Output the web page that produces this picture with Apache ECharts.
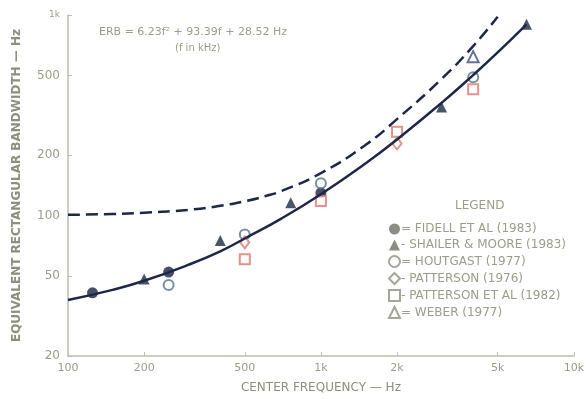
<!DOCTYPE html>
<html>
<head>
<meta charset="UTF-8">
<title>ERB</title>
<script src="https://cdn.jsdelivr.net/npm/echarts@6/dist/echarts.min.js"></script>
<style>html,body{margin:0;padding:0;background:#fff}</style>
</head>
<body>
<div id="main" style="width:587px;height:399px"></div>
<script>
// tick values
var xTicks = [100, 200, 500, 1000, 2000, 5000, 10000];
var yTicks = [20, 50, 100, 200, 500, 1000];

// curves (frequency Hz, bandwidth Hz)
var erbCurve = [[100, 38], [150, 42.7], [200, 47.4], [300, 57], [400, 66.5], [500, 77], [700, 97], [1000, 128], [1500, 182], [2000, 240], [3000, 365], [4000, 502], [5000, 651], [6500, 899]];
var cbCurve = [[100, 101], [150, 102], [200, 103.5], [300, 107], [400, 112], [500, 118], [600, 125], [700, 133], [1000, 163], [1500, 225], [2000, 303], [3000, 480], [4000, 700], [5000, 980]];

// measured points
var fidell = [[125, 41.3], [250, 52.4], [1000, 130]];
var shailer = [[200, 48.4], [400, 75.3], [760, 116], [3000, 348], [6500, 900]];
var houtgast = [[250, 45.2], [500, 80.6], [1000, 145], [4000, 489]];
var patterson76 = [[500, 73.6], [2000, 229]];
var patterson82 = [[500, 60.7], [1000, 118.5], [2000, 262], [4000, 427]];
var weber = [[4000, 620]];

var names = ['FIDELL ET AL (1983)', 'SHAILER & MOORE (1983)', 'HOUTGAST (1977)', 'PATTERSON (1976)', 'PATTERSON ET AL (1982)', 'WEBER (1977)'];
var prefix = ['= ', '- ', '= ', '- ', '- ', '= '];

var axisColor = '#b9c1ad';
var textColor = '#9c9c8a';
var ink = '#1f2748';

function fmt(v) {
    if (v >= 1000) return (v / 1000) + 'k';
    return v + '';
}

var legendData = names.map(function (n, i) {
    return {
        name: n,
        itemStyle: i < 2 ? {color: '#707064'} : {color: '#8e8e80', borderColor: '#8e8e80', borderWidth: 1.5}
    };
});

var chart = echarts.init(document.getElementById('main'));
chart.setOption({
    animation: false,
    textStyle: {fontFamily: 'DejaVu Sans'},
    title: [{
        text: 'ERB = 6.23f² + 93.39f + 28.52 Hz',
        left: 94, top: 22,
        textStyle: {fontSize: 11, fontWeight: 'normal', color: textColor}
    }, {
        text: '(f in kHz)',
        left: 170, top: 38,
        textStyle: {fontSize: 10, fontWeight: 'normal', color: textColor}
    }, {
        text: 'LEGEND',
        left: 450, top: 195,
        textStyle: {fontSize: 12, fontWeight: 'normal', color: textColor}
    }],
    legend: {
        orient: 'vertical',
        left: 383, top: 218,
        itemWidth: 11, itemHeight: 11, itemGap: 4,
        data: legendData,
        textStyle: {fontSize: 12, color: textColor, padding: [0, 0, 0, -4]},
        formatter: function (n) { return prefix[names.indexOf(n)] + n; }
    },
    grid: {left: 68, right: 11, top: 15, bottom: 38},
    xAxis: {
        type: 'log', min: 100, max: 10000,
        name: 'CENTER FREQUENCY — Hz', nameLocation: 'middle', nameGap: 26,
        nameTextStyle: {fontSize: 12, color: '#8e8e7c'},
        axisLine: {lineStyle: {color: axisColor, width: 1.5}},
        axisTick: {inside: true, length: 4, customValues: xTicks, lineStyle: {color: axisColor}},
        minorTick: {show: false},
        axisLabel: {customValues: xTicks, color: textColor, fontSize: 11, margin: 7, formatter: fmt},
        splitLine: {show: false}
    },
    yAxis: {
        type: 'log', min: 20, max: 1000,
        name: 'EQUIVALENT RECTANGULAR BANDWIDTH — Hz', nameLocation: 'middle', nameGap: 45,
        nameTextStyle: {fontSize: 12, fontWeight: 'bold', color: '#8e8e7c'},
        axisLine: {lineStyle: {color: axisColor, width: 1.5}},
        axisTick: {inside: true, length: 4, customValues: yTicks, lineStyle: {color: axisColor}},
        axisLabel: {
            customValues: yTicks, color: textColor, fontSize: 12, margin: 8,
            formatter: function (v) { return v >= 1000 ? '{s|1k}' : fmt(v); },
            rich: {s: {fontSize: 9, color: textColor}}
        },
        splitLine: {show: false}
    },
    series: [{
        type: 'line', data: cbCurve, smooth: true, symbol: 'none', silent: true,
        lineStyle: {color: ink, width: 2.5, type: [12, 6]}
    }, {
        type: 'line', data: erbCurve, smooth: true, symbol: 'none', silent: true,
        lineStyle: {color: ink, width: 2.5}
    }, {
        name: names[0], type: 'scatter', data: fidell, symbol: 'circle', symbolSize: 11,
        itemStyle: {color: '#1c2140'}
    }, {
        name: names[1], type: 'scatter', data: shailer, symbol: 'triangle', symbolSize: 11,
        itemStyle: {color: '#1c2a44'}
    }, {
        name: names[2], type: 'scatter', data: houtgast, symbol: 'emptyCircle', symbolSize: 10,
        itemStyle: {color: '#52758a', borderWidth: 1.8}
    }, {
        name: names[3], type: 'scatter', data: patterson76, symbol: 'emptyDiamond', symbolSize: [9, 12],
        itemStyle: {color: '#d47a72', borderWidth: 1.8}
    }, {
        name: names[4], type: 'scatter', data: patterson82, symbol: 'emptyRect', symbolSize: 10,
        itemStyle: {color: '#d9776e', borderWidth: 1.8}
    }, {
        name: names[5], type: 'scatter', data: weber, symbol: 'emptyTriangle', symbolSize: 11,
        itemStyle: {color: '#3e4c7e', borderWidth: 1.8}
    }]
});
</script>
</body>
</html>
